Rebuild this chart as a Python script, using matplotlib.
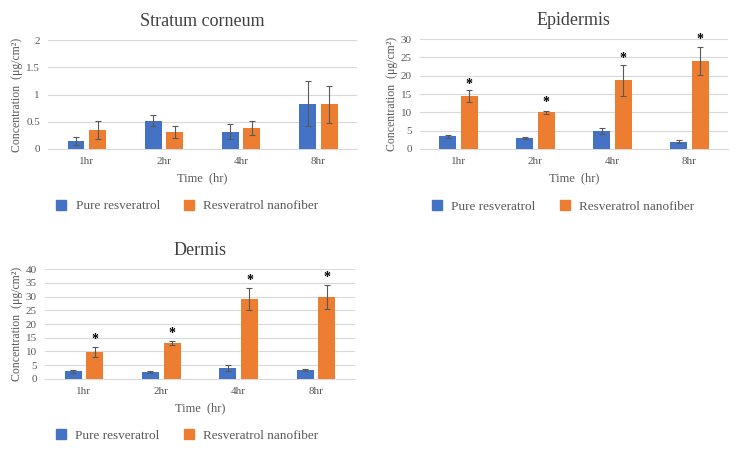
import numpy as np
import matplotlib
matplotlib.use("Agg")
import matplotlib.pyplot as plt
from matplotlib.lines import Line2D

plt.rcParams.update({
    "font.family": ["Liberation Serif", "DejaVu Serif"],
    "text.color": "#595959",
    "axes.labelcolor": "#595959",
    "xtick.color": "#595959",
    "ytick.color": "#595959",
})

# ── Data ──────────────────────────────────────────────
times = ["1hr", "2hr", "4hr", "8hr"]
series = ["Pure resveratrol", "Resveratrol nanofiber"]

sc_pure = [0.15, 0.52, 0.32, 0.83]
sc_pure_err = [0.07, 0.10, 0.13, 0.41]
sc_nano = [0.35, 0.31, 0.385, 0.82]
sc_nano_err = [0.16, 0.11, 0.135, 0.34]

ep_pure = [3.5, 2.9, 4.8, 2.0]
ep_pure_err = [0.4, 0.3, 0.8, 0.35]
ep_nano = [14.5, 10.0, 18.8, 24.0]
ep_nano_err = [1.6, 0.5, 4.2, 3.8]
ep_star = [17.7, 12.6, 24.7, 29.8]

de_pure = [2.7, 2.4, 4.0, 3.3]
de_pure_err = [0.5, 0.3, 1.0, 0.3]
de_nano = [9.7, 13.1, 29.2, 29.9]
de_nano_err = [1.8, 0.8, 4.0, 4.4]
de_star = [14.2, 16.5, 36.0, 37.0]

BLUE = "#4472C4"
ORANGE = "#ED7D31"


def panel(fig, rect, title, pure, pure_err, nano, nano_err, ymax, ystep,
          stars=None, ylab_x=None, legend_xy=(0.5, -0.52)):
    ax = fig.add_axes(rect)
    x = np.arange(len(times))
    w = 0.22
    ek = dict(ecolor="#595959", elinewidth=0.8, capsize=2.5, capthick=0.8)
    ax.bar(x - 0.14, pure, w, color=BLUE, yerr=pure_err, error_kw=ek, zorder=3)
    ax.bar(x + 0.14, nano, w, color=ORANGE, yerr=nano_err, error_kw=ek, zorder=3)
    if stars is not None:
        for xi, s in zip(x, stars):
            ax.text(xi + 0.14, s, "*", ha="center", va="center",
                    fontsize=10, color="black", fontweight="bold")
    ax.set_xlim(-0.5, len(times) - 0.5)
    ax.set_ylim(0, ymax)
    yt = np.arange(0, ymax + ystep / 2, ystep)
    ax.set_yticks(yt)
    ax.set_yticklabels([f"{v:g}" for v in yt], fontsize=8)
    ax.set_xticks(x)
    ax.set_xticklabels(times, fontsize=8)
    ax.tick_params(length=0, pad=6)
    ax.grid(axis="y", color="#D9D9D9", linewidth=0.8, zorder=0)
    for s in ["top", "right", "left"]:
        ax.spines[s].set_visible(False)
    ax.spines["bottom"].set_color("#D9D9D9")
    ax.set_title(title, fontsize=13, color="#404040", pad=10)
    ax.set_xlabel("Time  (hr)", fontsize=9, labelpad=4)
    ax.set_ylabel("Concentration  (μg/cm²)", fontsize=8.5)
    if ylab_x is not None:
        ax.yaxis.set_label_coords(ylab_x, 0.5)
    handles = [Line2D([], [], marker="s", linestyle="", color=c, markersize=7)
               for c in (BLUE, ORANGE)]
    ax.legend(handles, series, loc="center", bbox_to_anchor=legend_xy,
              ncol=2, frameon=False, fontsize=9.5, handletextpad=0.1,
              columnspacing=1.2)
    return ax


fig = plt.figure(figsize=(7.42, 4.5), dpi=100)

panel(fig, [0.065, 0.669, 0.416, 0.242], "Stratum corneum",
      sc_pure, sc_pure_err, sc_nano, sc_nano_err, 2, 0.5,
      ylab_x=-0.082, legend_xy=(0.437, -0.525))
panel(fig, [0.566, 0.669, 0.415, 0.244], "Epidermis",
      ep_pure, ep_pure_err, ep_nano, ep_nano_err, 30, 5, stars=ep_star,
      ylab_x=-0.072, legend_xy=(0.451, -0.525))
panel(fig, [0.061, 0.158, 0.417, 0.244], "Dermis",
      de_pure, de_pure_err, de_nano, de_nano_err, 40, 5, stars=de_star,
      ylab_x=-0.072, legend_xy=(0.445, -0.52))

fig.savefig("out.png", dpi=100)
